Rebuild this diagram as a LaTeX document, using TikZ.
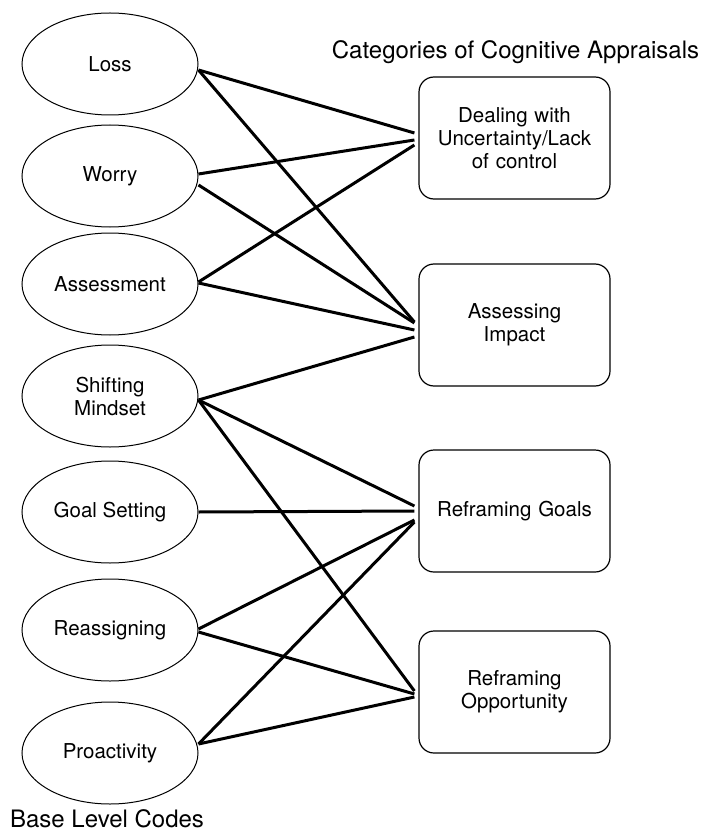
\documentclass[tikz,border=0pt]{standalone}
\usepackage{fontspec}
\setmainfont{TeX Gyre Heros}
\usetikzlibrary{shapes.geometric}

\begin{document}
\begin{tikzpicture}[x=1pt, y=1pt, font=\fontsize{20.5}{23}\selectfont]
\tikzstyle{code} = [ellipse, draw, line width=1pt, minimum width=176pt, minimum height=102pt,
                    inner sep=0pt, align=center]
\tikzstyle{category} = [rectangle, draw, line width=1.2pt, rounded corners=15pt, minimum width=191pt,
                        minimum height=122pt, text width=175pt, align=center]
\tikzstyle{heading} = [font=\fontsize{24}{28}\selectfont]
\tikzstyle{line} = [draw, line width=3pt]

\useasboundingbox (0,0) rectangle (702,-834);

% base level codes
\node [code] (loss) at (110,-64) {Loss};
\node [code, below of=loss, node distance=112pt] (worry) {Worry};
\node [code, below of=worry, node distance=108pt] (assess) {Assessment};
\node [code, below of=assess, node distance=112pt] (shift) {Shifting\\Mindset};
\node [code, below of=shift, node distance=116pt] (goal) {Goal Setting};
\node [code, below of=goal, node distance=118pt] (reassign) {Reassigning};
\node [code, below of=reassign, node distance=123pt] (proact) {Proactivity};
\node [heading, below of=proact, node distance=66pt, xshift=-3pt] (baselabel) {Base Level Codes};

% appraisal categories
\node [category] (dealing) at (514.5,-138) {Dealing with\\Uncertainty/Lack\\of control};
\node [category, below of=dealing, node distance=187pt] (impact) {Assessing\\Impact};
\node [category, below of=impact, node distance=186pt] (goals) {Reframing Goals};
\node [category, below of=goals, node distance=181pt] (opport) {Reframing\\Opportunity};
\node [heading, above of=dealing, node distance=86pt, xshift=1pt] (catlabel) {Categories of Cognitive Appraisals};

\path [line] ([yshift=-6pt]loss.east) -- ([xshift=-4pt, yshift=5pt]dealing.west);
\path [line] ([yshift=-6pt]loss.east) -- ([xshift=-4pt, yshift=3pt]impact.west);
\path [line] ([yshift=2pt]worry.east) -- ([xshift=-4pt, yshift=-2pt]dealing.west);
\path [line] ([yshift=-9pt]worry.east) -- ([xshift=-4pt, yshift=2pt]impact.west);
\path [line] ([yshift=2pt]assess.east) -- ([xshift=-4pt, yshift=-7pt]dealing.west);
\path [line] ([yshift=1pt]assess.east) -- ([xshift=-4pt, yshift=-5pt]impact.west);
\path [line] ([yshift=-4pt]shift.east) -- ([xshift=-4pt, yshift=-12pt]impact.west);
\path [line] ([yshift=-4pt]shift.east) -- ([xshift=-4pt, yshift=5pt]goals.west);
\path [line] ([yshift=-4pt]shift.east) -- ([xshift=-4pt, yshift=1pt]opport.west);
\path [line] (goal.east) -- ([xshift=-4pt]goals.west);
\path [line] ([yshift=1pt]reassign.east) -- ([xshift=-4pt, yshift=-9pt]goals.west);
\path [line] ([yshift=-2pt]reassign.east) -- ([xshift=-4pt, yshift=-2pt]opport.west);
\path [line] ([yshift=9pt]proact.east) -- ([xshift=-4pt, yshift=-11pt]goals.west);
\path [line] ([yshift=9pt]proact.east) -- ([xshift=-4pt, yshift=-5pt]opport.west);
\end{tikzpicture}
\end{document}
